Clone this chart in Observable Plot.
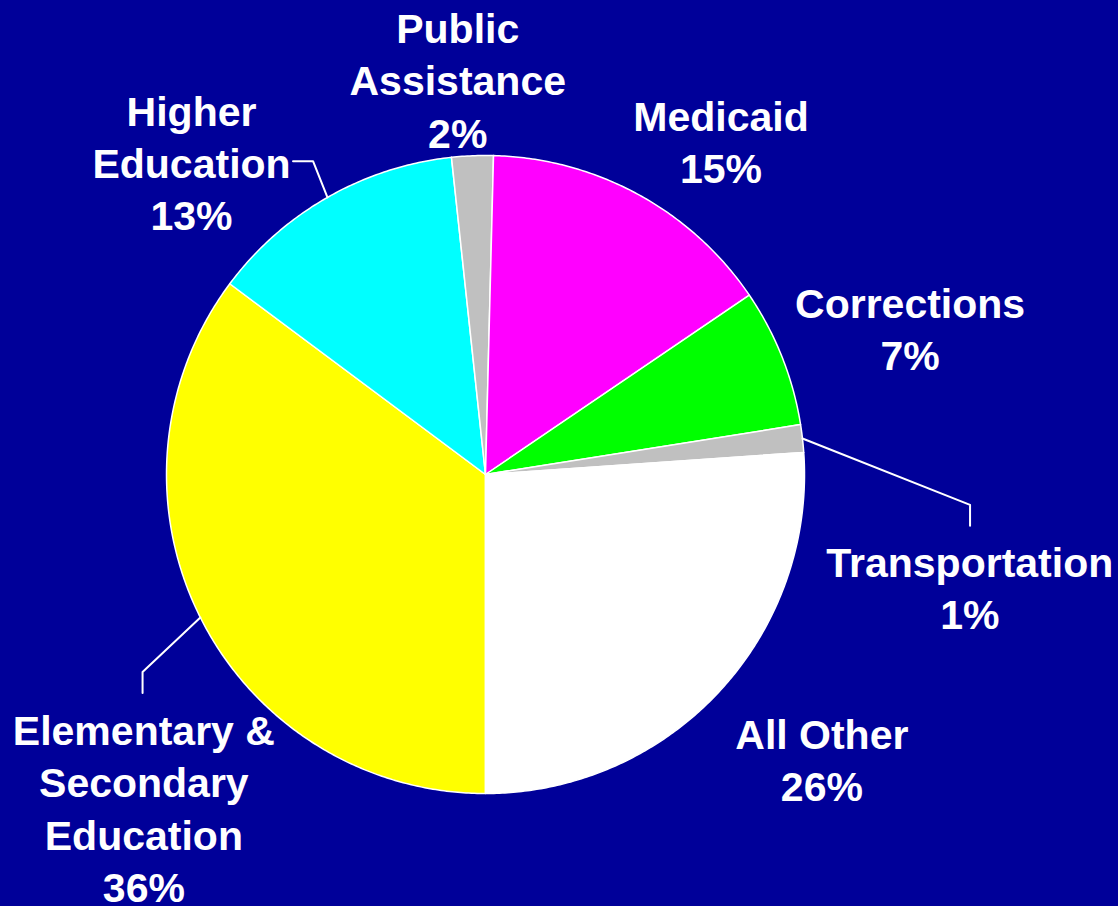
<!DOCTYPE html>
<html>
<head>
<meta charset="utf-8">
<script src="https://cdn.jsdelivr.net/npm/d3@7"></script>
<script src="https://cdn.jsdelivr.net/npm/@observablehq/plot@0.6"></script>
<style>
  html, body { margin: 0; padding: 0; background: #000099; }
  #chart { width: 1118px; height: 906px; }
</style>
</head>
<body>
<div id="chart"></div>
<script>
// ---- data (clockwise from the bottom of the pie) ----
const categories = ["Elementary & Secondary Education", "Higher Education", "Public Assistance", "Medicaid", "Corrections", "Transportation", "All Other"];
const shares = [35.2, 13.1, 2.1, 15.1, 7.0, 1.4, 26.1];
const labelTexts = ["Elementary &\nSecondary\nEducation\n36%", "Higher\nEducation\n13%", "Public\nAssistance\n2%", "Medicaid\n15%", "Corrections\n7%", "Transportation\n1%", "All Other\n26%"];
const sliceColors = ["#FFFF00", "#00FFFF", "#C0C0C0", "#FF00FF", "#00FF00", "#C0C0C0", "#FFFFFF"];

// ---- layout (not data) ----
const W = 1118, H = 906;
const cx = 485, cy = 474, R = 319;            // pie centre / radius in px
// label placement: [angle offset from slice mid (deg), radius factor]
const labelPolar = [[-17.8, 1.50], [-13.75, 1.34], [-1.7, 1.235], [6.8, 1.274], [2.8, 1.406], [19.8, 1.56], [-2.6, 1.385]];
// leader lines: offsets (px) of elbow and end relative to label centre
const leaders = {
  0: [[-1.3, -137.5], [-1.3, -116.5]],
  1: [[121.5, -3], [101.5, -3]],
  5: [[0.3, -84.3], [0.3, -63.3]]
};

const pie = d3.pie().sort(null).startAngle(Math.PI).endAngle(3 * Math.PI)(shares);
const polar = (a, r) => ({x: r * Math.sin(a), y: r * Math.cos(a)});

const slicePts = pie.map((p, i) => {
  const pts = [{x: 0, y: 0}];
  const n = Math.max(4, Math.ceil((p.endAngle - p.startAngle) / (Math.PI / 360)));
  for (let k = 0; k <= n; k++) pts.push(polar(p.startAngle + (p.endAngle - p.startAngle) * k / n, 1));
  pts.push({x: 0, y: 0});
  return pts;
});

const labelData = pie.map((p, i) => {
  const mid = (p.startAngle + p.endAngle) / 2;
  const [dA, k] = labelPolar[i];
  const pt = polar(mid + dA * Math.PI / 180, k);
  return {...pt, text: labelTexts[i], name: categories[i], mid};
});

const leaderPts = [];
Object.entries(leaders).forEach(([idx, offs]) => {
  const L = labelData[+idx];
  const start = polar(L.mid, 1.0);
  leaderPts.push({...start, name: L.name});
  offs.forEach(([dx, dy]) => leaderPts.push({x: L.x + dx / R, y: L.y - dy / R, name: L.name}));
});

const chart = Plot.plot({
  width: W,
  height: H,
  margin: 0,
  x: {domain: [-cx / R, (W - cx) / R], range: [0, W], axis: null},
  y: {domain: [-(H - cy) / R, cy / R], range: [H, 0], axis: null},
  style: {background: "#000099", overflow: "visible"},
  marks: [
    ...slicePts.map((pts, i) => Plot.line(pts, {
      x: "x", y: "y", fill: sliceColors[i], stroke: "white", strokeWidth: 1.5, strokeLinejoin: "round"
    })),
    Plot.line(leaderPts, {x: "x", y: "y", z: "name", stroke: "white", strokeWidth: 2}),
    Plot.text(labelData, {
      x: "x", y: "y", text: "text", fill: "white", fontSize: 41, fontWeight: "bold", dy: -3,
      fontFamily: "Liberation Sans, Arial, Helvetica, sans-serif", lineHeight: 1.28
    })
  ]
});
document.getElementById("chart").appendChild(chart);
</script>
</body>
</html>
